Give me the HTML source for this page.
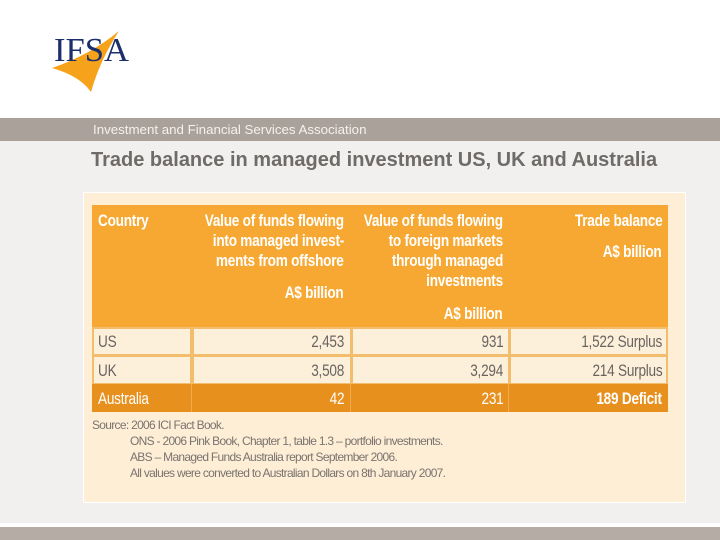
<!DOCTYPE html>
<html><head><meta charset="utf-8"><style>
body{margin:0;width:720px;height:540px;position:relative;overflow:hidden;background:#fff;font-family:"Liberation Sans",sans-serif}
.abs{position:absolute}
.cell{position:absolute;box-sizing:border-box}
.t{position:absolute;white-space:nowrap;font-size:17px;line-height:20px;letter-spacing:-0.3px}
.t span{display:inline-block;transform:scaleX(0.8)}
.R{text-align:right}.R span{transform-origin:right center}
.L span{transform-origin:left center}
.hd{color:#fff;font-weight:bold}
.bd{color:#6a6461}
</style></head><body>
<svg class="abs" style="left:0;top:0" width="160" height="110">
<path d="M119,31 Q100,60 91,92 Q80,76 52,68 Q90,55 119,31 Z" fill="#f7a21b"/>
<text x="54" y="61" font-family="Liberation Serif,serif" font-size="34" fill="#1c2f6b" textLength="75" lengthAdjust="spacingAndGlyphs">IFSA</text>
</svg>
<div class="abs" style="left:0;top:118px;width:720px;height:23px;background:#aaa19a;color:#f4f1ee;font-size:13.3px;line-height:23px"><span style="margin-left:93px">Investment and Financial Services Association</span></div>
<div class="abs" style="left:0;top:141px;width:720px;height:382px;background:#f1f0ee"></div>
<div class="abs" style="left:91px;top:149px;font-size:20px;font-weight:bold;color:#6e6b69">Trade balance in managed investment US, UK and Australia</div>
<div class="abs" style="left:83px;top:192px;width:601px;height:309px;background:#fdeed5;border:1px solid #fff"></div>

<div>
<div class="cell" style="left:92px;top:205px;width:576px;height:122px;background:#f7a833"></div>
<div class="cell" style="left:92px;top:327px;width:576px;height:57px;background:#f2be6e"></div>
<div class="cell" style="left:94px;top:329px;width:96px;height:25px;background:#fdf0da"></div>
<div class="cell" style="left:194px;top:329px;width:156px;height:25px;background:#fdf0da"></div>
<div class="cell" style="left:353px;top:329px;width:155px;height:25px;background:#fdf0da"></div>
<div class="cell" style="left:511px;top:329px;width:155px;height:25px;background:#fdf0da"></div>
<div class="cell" style="left:94px;top:357px;width:96px;height:26px;background:#fdf0da"></div>
<div class="cell" style="left:194px;top:357px;width:156px;height:26px;background:#fdf0da"></div>
<div class="cell" style="left:353px;top:357px;width:155px;height:26px;background:#fdf0da"></div>
<div class="cell" style="left:511px;top:357px;width:155px;height:26px;background:#fdf0da"></div>
<div class="cell" style="left:92px;top:384px;width:576px;height:28px;background:#e8901e"></div>
<div class="cell" style="left:191px;top:384px;width:1px;height:28px;background:#f2a94a"></div>
<div class="cell" style="left:350px;top:384px;width:1px;height:28px;background:#f2a94a"></div>
<div class="cell" style="left:508px;top:384px;width:1px;height:28px;background:#f2a94a"></div>

<div class="t hd L" style="left:98px;top:211px"><span>Country</span></div>
<div class="t hd R" style="right:376px;top:211px"><span>Value of funds flowing</span><br><span>into managed invest-</span><br><span>ments from offshore</span></div>
<div class="t hd R" style="right:376px;top:283px"><span>A$ billion</span></div>
<div class="t hd R" style="right:217px;top:211px"><span>Value of funds flowing</span><br><span>to foreign markets</span><br><span>through managed</span><br><span>investments</span></div>
<div class="t hd R" style="right:217px;top:304px"><span>A$ billion</span></div>
<div class="t hd R" style="right:58px;top:211px"><span>Trade balance</span></div>
<div class="t hd R" style="right:58px;top:242px"><span>A$ billion</span></div>

<div class="t bd L" style="left:98px;top:332px"><span>US</span></div>
<div class="t bd R" style="right:376px;top:332px"><span>2,453</span></div>
<div class="t bd R" style="right:217px;top:332px"><span>931</span></div>
<div class="t bd R" style="right:58px;top:332px"><span>1,522 Surplus</span></div>
<div class="t bd L" style="left:98px;top:361px"><span>UK</span></div>
<div class="t bd R" style="right:376px;top:361px"><span>3,508</span></div>
<div class="t bd R" style="right:217px;top:361px"><span>3,294</span></div>
<div class="t bd R" style="right:58px;top:361px"><span>214 Surplus</span></div>
<div class="t L" style="left:98px;top:389px;color:#fff"><span>Australia</span></div>
<div class="t R" style="right:376px;top:389px;color:#fff"><span>42</span></div>
<div class="t R" style="right:217px;top:389px;color:#fff"><span>231</span></div>
<div class="t R" style="right:58px;top:389px;color:#fff;font-weight:bold"><span>189 Deficit</span></div>
</div>

<div class="abs" style="left:92px;top:417px;font-size:12px;line-height:16px;color:#7a7470;letter-spacing:-0.7px">Source: 2006 ICI Fact Book.<div style="padding-left:38px">ONS - 2006 Pink Book, Chapter 1, table 1.3 – portfolio investments.<br>ABS – Managed Funds Australia report September 2006.<br>All values were converted to Australian Dollars on 8th January 2007.</div></div>
<div class="abs" style="left:0;top:527px;width:720px;height:13px;background:#b5aca6"></div>
</body></html>
